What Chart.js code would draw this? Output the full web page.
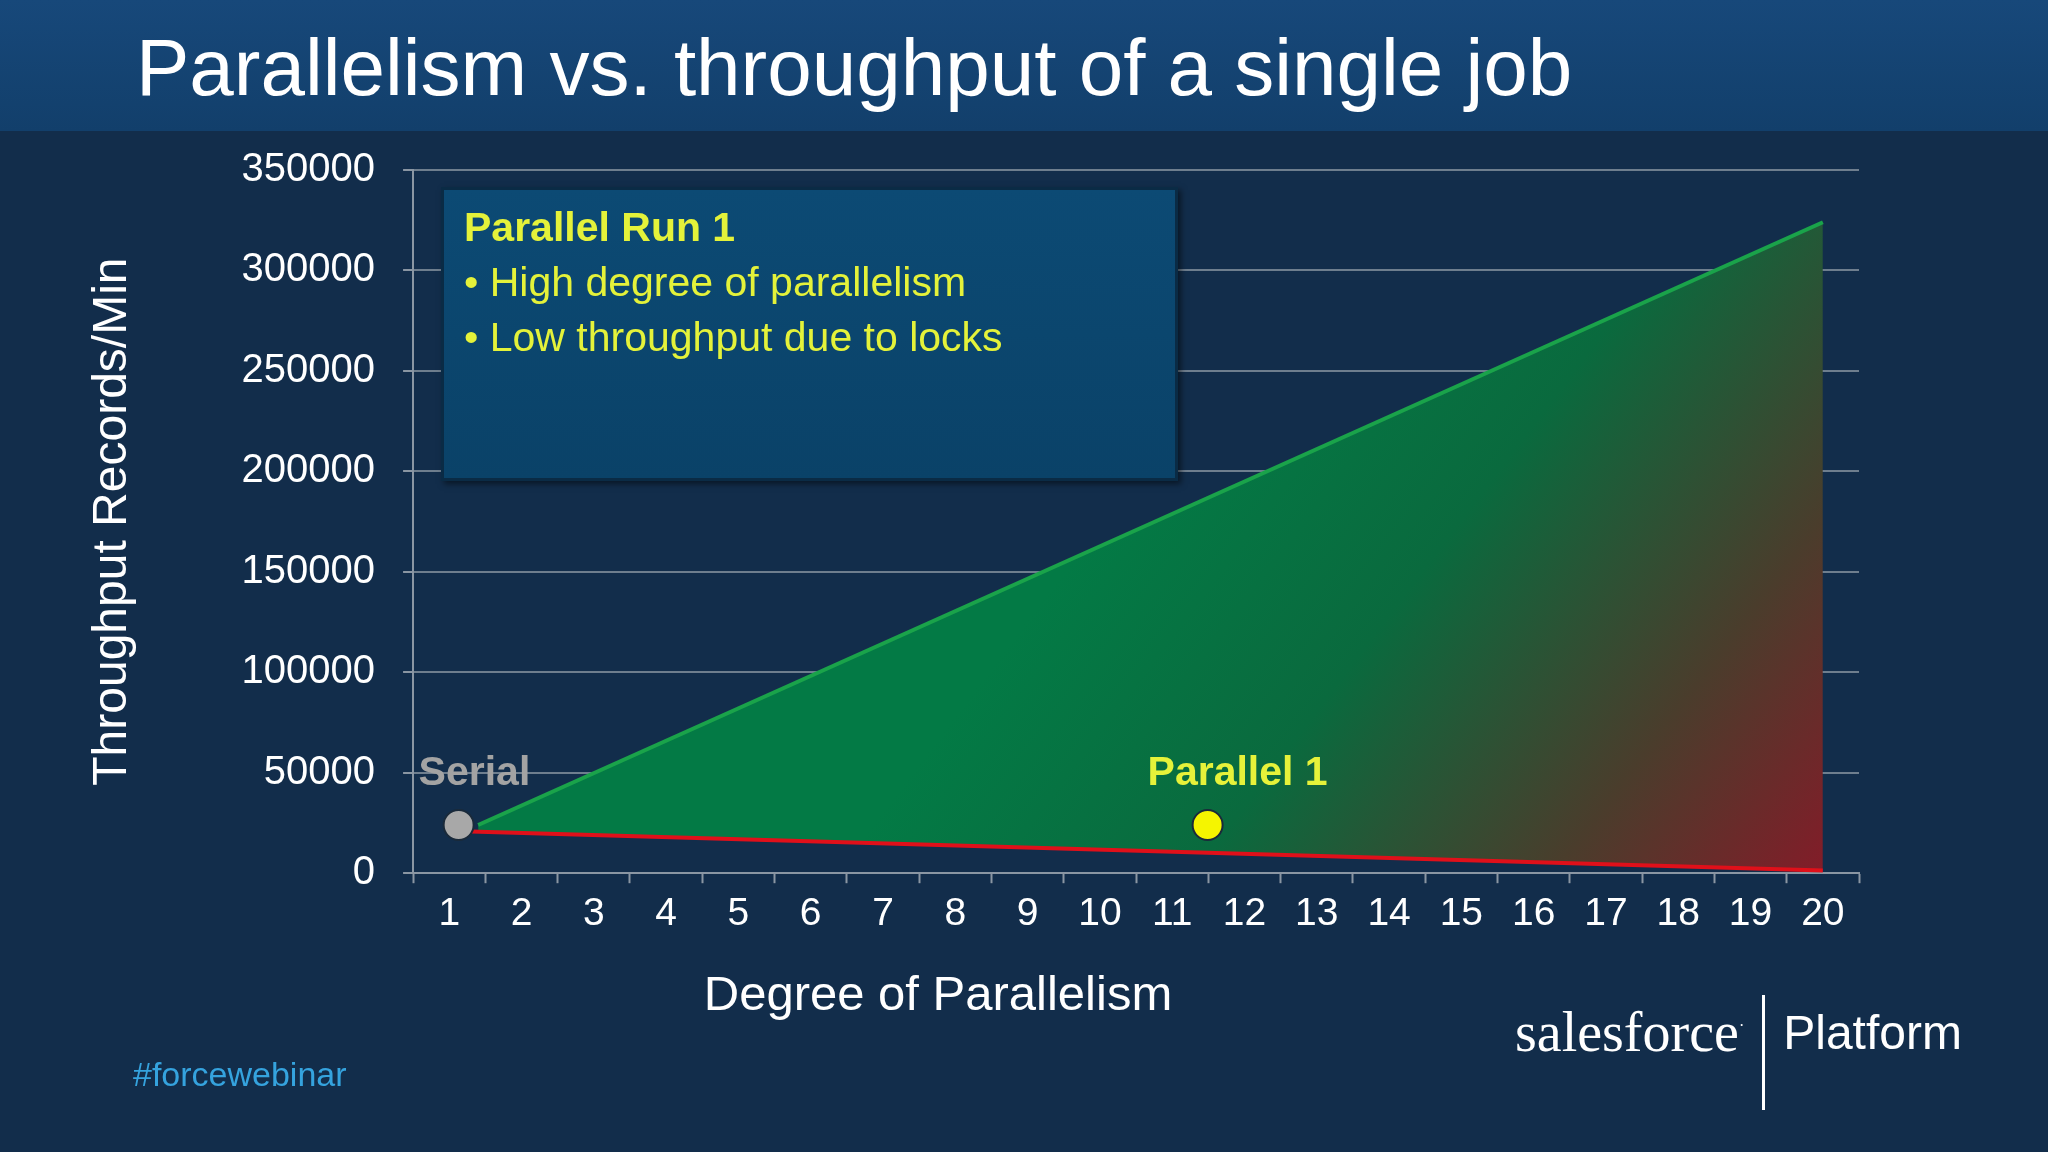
<!DOCTYPE html>
<html><head><meta charset="utf-8">
<script src="https://cdn.jsdelivr.net/npm/chart.js@4/dist/chart.umd.min.js"></script>
<style>
html,body{margin:0;padding:0;width:2048px;height:1152px;overflow:hidden;background:#122d4b;font-family:"Liberation Sans",Arial,sans-serif}
#bar{position:absolute;left:0;top:0;width:2048px;height:131px;background:linear-gradient(#17487a,#123f6b)}
#title{position:absolute;left:136px;top:22px;color:#fff;font-size:80px;white-space:nowrap}
#wrap{position:absolute;left:0;top:0;width:2048px;height:1152px}
#box{position:absolute;left:441px;top:187px;width:737px;height:294px;background:linear-gradient(#0c4a74,#0a4268);border:3px solid #0a2b45;box-shadow:3px 3px 6px rgba(0,0,0,.5);color:#e4f23a;font-size:41px;line-height:55px;padding:10px 20px;box-sizing:border-box}
#xt{position:absolute;left:938px;top:965px;transform:translateX(-50%);color:#fff;font-size:49px;white-space:nowrap}
#tag{position:absolute;left:133px;top:1055px;color:#35a3de;font-size:34px}
#logo{position:absolute;left:1515px;top:995px;color:#fff;white-space:nowrap}
</style></head><body>
<div id="bar"></div><div id="title">Parallelism vs. throughput of a single job</div>
<div id="wrap"><canvas id="c" width="2048" height="1152"></canvas></div>
<div id="box"><b>Parallel Run 1</b><br>• High degree of parallelism<br>• Low throughput due to locks</div>
<div id="xt">Degree of Parallelism</div>
<div id="tag">#forcewebinar</div>
<div id="logo"><span style="font-family:'Liberation Serif',serif;font-size:56px;position:relative;top:-6px">salesforce<sup style="font-size:16px">·</sup></span><span style="display:inline-block;width:3px;height:115px;background:#fff;margin:0 18px;vertical-align:middle"></span><span style="font-size:48px;position:relative;top:-8px">Platform</span></div>
<script>
const xTicks=[1,2,3,4,5,6,7,8,9,10,11,12,13,14,15,16,17,18,19,20];
const yTicks=[0,50000,100000,150000,200000,250000,300000,350000];
const greenLine=[{x:1.4,y:24000},{x:20,y:324000}];
const redLine=[{x:1.3,y:20800},{x:20,y:1300}];
const serialPoint=[{x:1.13,y:24000}];
const parallelPoint=[{x:11.49,y:24000}];
const pointLabels=["Serial","Parallel 1"];
const labelColors=["#a3a3a3","#e6f23a"];

const labelPlugin={id:'lbl',afterDatasetsDraw(ch){
 const c=ch.ctx,xs=ch.scales.x,ys=ch.scales.y;
 c.save();c.font='bold 41px "Liberation Sans",Arial';c.textBaseline='alphabetic';
 c.fillStyle=labelColors[0];c.textAlign='left';c.fillText(pointLabels[0],xs.getPixelForValue(serialPoint[0].x)-40,ys.getPixelForValue(serialPoint[0].y)-40);
 c.fillStyle=labelColors[1];c.textAlign='center';c.fillText(pointLabels[1],xs.getPixelForValue(parallelPoint[0].x)+30,ys.getPixelForValue(parallelPoint[0].y)-40);
 c.restore();}};

new Chart(document.getElementById('c'),{
 type:'scatter',
 data:{datasets:[
  {data:serialPoint,showLine:false,pointRadius:15,pointBackgroundColor:'#a8a8a8',pointBorderColor:'#1a2a3a',pointBorderWidth:2,order:0},
  {data:parallelPoint,showLine:false,pointRadius:15,pointBackgroundColor:'#f5f500',pointBorderColor:'#1a2a3a',pointBorderWidth:2,order:0},
  {data:greenLine,showLine:true,borderColor:'#1aa34a',borderWidth:4,pointRadius:0,fill:'+1',order:2,
   backgroundColor:(ctx)=>{const a=ctx.chart.chartArea;if(!a)return '#0a6a3a';const g=ctx.chart.ctx.createLinearGradient(a.left+a.width*0.55,a.top+a.height*0.3,a.right,a.bottom);g.addColorStop(0,'#037a45');g.addColorStop(0.35,'#0a6a3e');g.addColorStop(0.7,'#4a3d2c');g.addColorStop(1,'#8a1828');return g;}},
  {data:redLine,showLine:true,borderColor:'#e0101a',borderWidth:4,pointRadius:0,fill:false,order:1}
 ]},
 options:{responsive:false,animation:false,devicePixelRatio:1,
  layout:{padding:{top:170,left:80,right:189,bottom:206}},
  plugins:{legend:{display:false},tooltip:{enabled:false}},
  scales:{
   x:{type:'linear',min:0.5,max:20.5,
    afterBuildTicks:(s)=>{const t=[];for(let v=0.5;v<=20.5;v+=0.5)t.push({value:v});s.ticks=t;},
    ticks:{autoSkip:false,maxRotation:0,color:'#fff',font:{size:39,family:'"Liberation Sans",Arial'},padding:8,
     callback:(v)=>xTicks.includes(v)?String(v):''},
    grid:{drawOnChartArea:false,tickLength:10,tickColor:(ctx)=>Number.isInteger(ctx.tick.value)?'rgba(0,0,0,0)':'#8a96a3',tickWidth:2},
    border:{color:'#8a96a3',width:2}},
   y:{min:0,max:350000,
    afterBuildTicks:(s)=>{s.ticks=yTicks.map(v=>({value:v}));},
    ticks:{color:'#fff',font:{size:40,family:'"Liberation Sans",Arial'},padding:28,callback:(v)=>String(v)},
    grid:{color:'#6e7e8e',lineWidth:2,tickLength:10,tickColor:'#8a96a3'},
    border:{color:'#8a96a3',width:2},
    title:{display:true,text:'Throughput Records/Min',color:'#fff',font:{size:48,family:'"Liberation Sans",Arial'},padding:{bottom:72}}}
  }},
 plugins:[labelPlugin]
});
</script></body></html>
